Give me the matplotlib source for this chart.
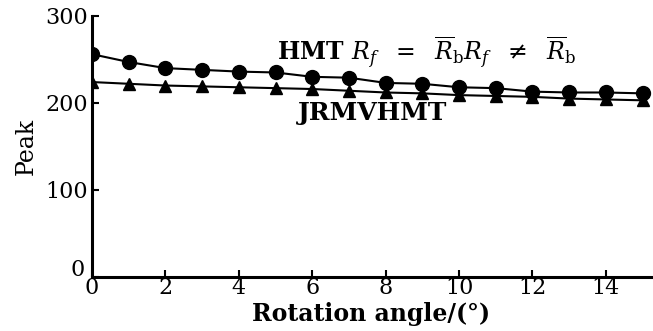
import matplotlib
matplotlib.use('Agg')
import matplotlib.pyplot as plt
import matplotlib.transforms as mtransforms

angles = list(range(16))
hmt_peak = [256, 247, 240, 238, 236, 235, 230, 229, 223, 222, 218, 217, 213, 212, 212, 211]
jrmv_peak = [224, 222, 220, 219, 218, 217, 216, 214, 212, 211, 209, 208, 207, 205, 204, 203]
xticks = [0, 2, 4, 6, 8, 10, 12, 14]
yticks = [0, 100, 200, 300]

plt.rcParams['font.family'] = ['DejaVu Serif']
plt.rcParams['mathtext.fontset'] = 'dejavuserif'

fig = plt.figure(figsize=(6.53, 3.31), dpi=100)
ax = fig.add_axes([0.141, 0.163, 0.856, 0.789])

ax.plot(angles, hmt_peak, color='black', lw=1.5, marker='o', ms=10)
ax.plot(angles, jrmv_peak, color='black', lw=1.5, marker='^', ms=9)

ax.set_xlim(0, 15.23)
ax.set_ylim(0, 300)
ax.set_xticks(xticks)
ax.set_yticks(yticks)
ax.tick_params(direction='in', width=1.5, length=5, labelsize=16)
ax.tick_params(axis='x', pad=0)
ax.tick_params(axis='y', pad=3)
for s in ['top', 'right']:
    ax.spines[s].set_visible(False)
for s in ['left', 'bottom']:
    ax.spines[s].set_linewidth(2.2)

# lift the y "0" a little so it clears the x "0"
shift = mtransforms.ScaledTranslation(-2 / 72, 7 / 72, fig.dpi_scale_trans)
ylab0 = ax.get_yticklabels()[0]
ylab0.set_transform(ylab0.get_transform() + shift)

ax.text(5.05, 258, r'HMT $R_f\ \ =\ \ \overline{R}_{\rm b}R_f\ \ \neq\ \ \overline{R}_{\rm b}$',
        fontsize=17, fontweight='bold', va='center')
ax.text(5.6, 188, 'JRMVHMT', fontsize=18, fontweight='bold', va='center')

ax.set_xlabel('Rotation angle/(°)', fontsize=17, fontweight='bold', labelpad=2)
ax.set_ylabel('Peak', fontsize=17, labelpad=5)

plt.savefig('out.png', dpi=100)
